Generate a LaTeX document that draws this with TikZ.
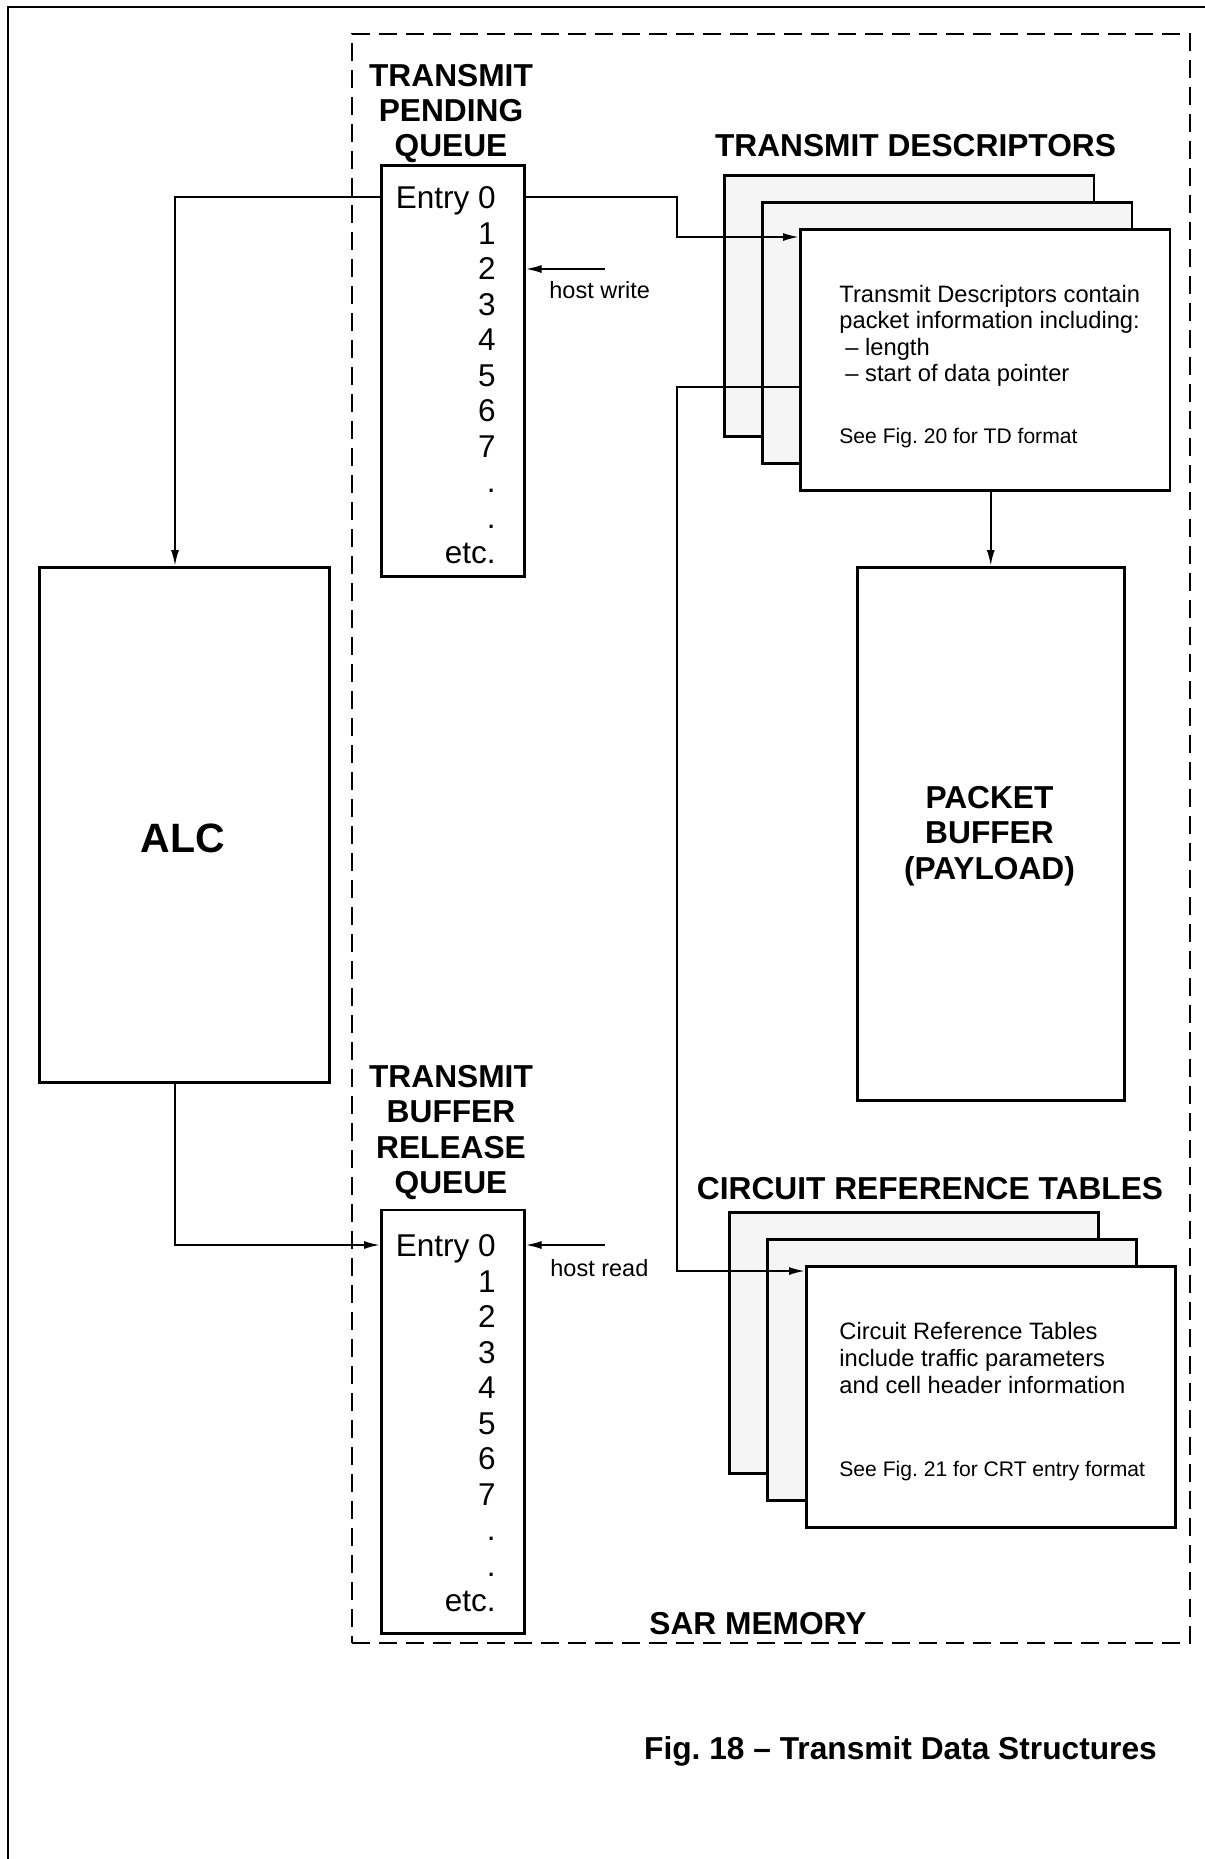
\documentclass[tikz,border=0pt]{standalone}
\usepackage{fontspec}
\setmainfont{Liberation Sans}
\usetikzlibrary{arrows.meta,calc}
\frenchspacing
\begin{document}
\begin{tikzpicture}[x=0.5pt,y=-0.5pt,
  box/.style={draw, line width=1.25pt, inner sep=0pt, anchor=north west, fill=white},
  shade/.style={box, fill=black!4},
  sarbox/.style={draw, line width=1pt, dash pattern=on 9pt off 4.5pt, inner sep=0pt, anchor=north west},
  arr/.style={-{Latex[length=8pt,width=4pt]}, line width=1pt},
  conn/.style={line width=1pt},
  ttl/.style={font=\fontsize{15.85}{18}\selectfont\bfseries, inner sep=0pt, anchor=base},
  big/.style={font=\fontsize{20.5}{24}\selectfont\bfseries, inner sep=0pt, anchor=base},
  ent/.style={font=\fontsize{15.75}{18}\selectfont, inner sep=0pt, anchor=base east},
  body/.style={font=\fontsize{11.85}{13}\selectfont, inner sep=0pt, anchor=base west},
  small/.style={font=\fontsize{10.55}{12}\selectfont, inner sep=0pt, anchor=base west},
  lbl/.style={font=\fontsize{11.75}{13}\selectfont, inner sep=0pt, anchor=base west}]
\useasboundingbox (0,0) rectangle (1205,1859);
\clip (0,0) rectangle (1205,1859);
% outer frame (right and bottom edges lie outside the picture)
\draw[line width=1pt] (8,1950) -- (8,7) -- (1300,7);
% SAR memory region
\node[sarbox, minimum width=419pt, minimum height=804.5pt] (sar) at (351,33) {};
% boxes
\node[box, line width=1.7pt, minimum width=145pt, minimum height=257.5pt] (alc) at (38,566) {};
\node[box, minimum width=71.5pt, minimum height=205.5pt] (tpq) at (380,164) {};
\node[box, minimum width=71.5pt, minimum height=211.75pt] (tbrq) at (380,1208.5) {};
\node[shade, minimum width=184.75pt, minimum height=130.5pt] (td1) at (723,174) {};
\node[shade, minimum width=184.75pt, minimum height=130.5pt] (td2) at (761,201) {};
\node[box, minimum width=184.75pt, minimum height=130.5pt] (td3) at (799,228) {};
\node[box, minimum width=133.5pt, minimum height=266.5pt] (pb) at (856,566) {};
\node[shade, minimum width=184.5pt, minimum height=130.5pt] (crt1) at (728,1211) {};
\node[shade, minimum width=184.5pt, minimum height=130.5pt] (crt2) at (766,1238) {};
\node[box, minimum width=184.5pt, minimum height=130.5pt] (crt3) at (805,1265) {};
% helper coordinates
\coordinate (e0) at (451,197);
\coordinate (r0) at (451,1245);
\coordinate (col) at (677,0);
\coordinate (alcx) at (175,0);
\coordinate (tdin) at (0,237);
\coordinate (tdout) at (0,387);
\coordinate (crtin) at (0,1271);
\coordinate (hw) at (605,269);
\coordinate (hr) at (605,1245);
% connectors
\draw[arr] (tpq.east |- e0) -- (col |- e0) |- (td3.west |- tdin);
\draw[arr] (tpq.west |- e0) -| (alcx |- alc.north);
\draw[arr] (alcx |- alc.south) |- (tbrq.west |- r0);
\draw[arr] (hw) -- (tpq.east |- hw);
\draw[arr] (hr) -- (tbrq.east |- hr);
\draw[arr] (td3.west |- tdout) -| (col |- crtin) -- (crt3.west |- crtin);
\draw[arr] (td3.south -| pb.north) -- (pb.north);
% queue entries
\foreach \t [count=\i from 0] in {Entry 0,1,2,3,4,5,6,7,.,.,etc.} {
  \node[ent] (pe\i) at (496,{208.5+35.5*\i}) {\t};
  \node[ent] (re\i) at (496,{1256.5+35.5*\i}) {\t};
}
% titles
\node[ttl] (tpqa) at (451,86.5) {TRANSMIT};
\node[ttl] (tpqb) at (451,121.5) {PENDING};
\node[ttl] (tpqc) at (451,156.5) {QUEUE};
\node[ttl] (tbra) at (451,1087) {TRANSMIT};
\node[ttl] (tbrb) at (451,1122.5) {BUFFER};
\node[ttl] (tbrc) at (451,1158) {RELEASE};
\node[ttl] (tbrd) at (451,1193.5) {QUEUE};
\node[ttl] (tdt) at (915.5,156) {TRANSMIT DESCRIPTORS};
\node[ttl] (crtt) at (930,1199) {CIRCUIT REFERENCE TABLES};
\node[ttl] (pba) at (989.5,808) {PACKET};
\node[ttl] (pbb) at (989.5,843.5) {BUFFER};
\node[ttl] (pbc) at (989.5,879) {(PAYLOAD)};
\node[big] (alct) at (183,852) {ALC};
\node[ttl] (sart) at (758,1634) {SAR MEMORY};
\node[ttl] (cap) at (900.5,1759) {Fig. 18 – Transmit Data Structures};
% labels
\node[lbl] (hwl) at (549,298) {host write};
\node[lbl] (hrl) at (550,1276) {host read};
% descriptor text
\node[body] (tda) at (839,302) {Transmit Descriptors contain};
\node[body] (tdb) at (839,328.5) {packet information including:};
\node[body] (tdc) at (845,355) {– length};
\node[body] (tdd) at (845,381) {– start of data pointer};
\node[small] (tde) at (839,443) {See Fig. 20 for TD format};
\node[body] (cra) at (839,1339) {Circuit Reference Tables};
\node[body] (crb) at (839,1366) {include traffic parameters};
\node[body] (crc) at (839,1393) {and cell header information};
\node[small] (crd) at (839,1476) {See Fig. 21 for CRT entry format};
\end{tikzpicture}
\end{document}
